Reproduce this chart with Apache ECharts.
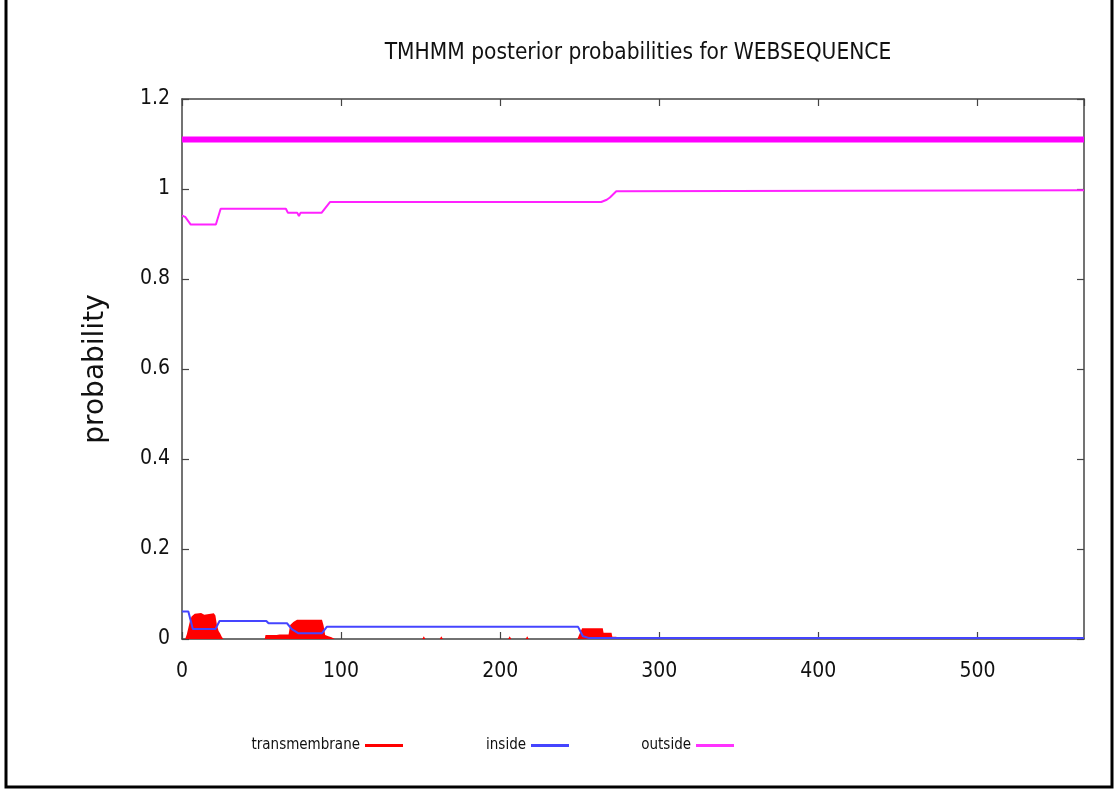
<!DOCTYPE html>
<html>
<head>
<meta charset="utf-8">
<script src="https://cdn.jsdelivr.net/npm/echarts@6/dist/echarts.min.js"></script>
<style>
  html, body { margin: 0; padding: 0; background: #fff; }
  #chart { width: 1116px; height: 791px; }
</style>
</head>
<body>
<div id="chart"></div>
<script>
  // residue position / posterior probability
  const tmPos = [2, 3, 4, 5, 6, 8, 12, 14, 15, 20, 21, 22, 23, 24, 25, 26,
    52, 52.5, 59.5, 60.5, 61.3, 67, 68, 70, 72.3, 88, 89, 90, 92, 94, 96,
    151, 152, 153, 162, 163, 164, 205, 206, 207, 216, 217, 218,
    248.5, 250, 251.5, 264.5, 265, 270, 270.5, 273, 274];
  const tmProb = [0, 0.01, 0.025, 0.04, 0.05, 0.056, 0.058, 0.054, 0.057, 0.057, 0.052, 0.03, 0.018, 0.012, 0.005, 0,
    0, 0.009, 0.009, 0.006, 0.010, 0.010, 0.031, 0.038, 0.043, 0.043, 0.03, 0.009, 0.006, 0.004, 0,
    0, 0.006, 0, 0, 0.006, 0, 0, 0.006, 0, 0, 0.006, 0,
    0, 0.012, 0.024, 0.024, 0.014, 0.014, 0.005, 0.005, 0];

  const insidePos = [0, 4, 6.8, 21, 23.6, 53, 54.4, 66, 69, 73, 88, 91, 249, 252, 256, 567];
  const insideProb = [0.061, 0.061, 0.022, 0.022, 0.040, 0.040, 0.035, 0.035, 0.022, 0.013, 0.013, 0.027, 0.027, 0.006, 0.002, 0.002];

  const outsidePos = [0, 2, 5.5, 21.3, 24.3, 65.3, 66.6, 72.5, 73.5, 74.5, 87.7, 93, 263.5, 267, 269, 273, 567];
  const outsideProb = [0.941, 0.938, 0.921, 0.921, 0.956, 0.956, 0.947, 0.947, 0.940, 0.947, 0.947, 0.971, 0.971, 0.976, 0.981, 0.995, 0.997];

  // predicted topology bar at the top
  const topoPos = [0, 567];
  const topoProb = [1.11, 1.11];

  const seqLength = 567;
  const font = '"DejaVu Sans Condensed", "Liberation Sans", sans-serif';

  function pairs(xs, ys) {
    return xs.map((x, i) => [x, ys[i]]);
  }

  const charts = echarts.init(document.getElementById("chart"));

  const axisLine = { show: true, onZero: false, lineStyle: { color: "#444", width: 1.5 } };
  const tick = { show: true, inside: true, length: 7, lineStyle: { color: "#444", width: 1.2 } };

  const legendBase = {
    top: 738,
    padding: 0,
    align: "right",
    icon: "rect",
    itemWidth: 38,
    itemHeight: 3,
    itemGap: 8,
    textStyle: { fontFamily: font, fontSize: 15, color: "#111" },
  };

  const option = {
    backgroundColor: "#fff",
    animation: false,
    title: {
      text: "TMHMM posterior probabilities for WEBSEQUENCE",
      left: 633,
      textAlign: "center",
      top: 37,
      textStyle: { fontFamily: font, fontSize: 22.5, fontWeight: "normal", color: "#111" },
    },
    grid: { left: 182, right: 32, top: 99, bottom: 152 },
    legend: [
      Object.assign({}, legendBase, { data: ["transmembrane"], right: 713 }),
      Object.assign({}, legendBase, { data: ["inside"], right: 547 }),
      Object.assign({}, legendBase, { data: ["outside"], right: 382 }),
    ],
    xAxis: [
      {
        type: "value",
        min: 0,
        max: seqLength,
        interval: 100,
        position: "bottom",
        axisLine: axisLine,
        axisTick: tick,
        splitLine: { show: false },
        axisLabel: { fontFamily: font, fontSize: 21, color: "#111", margin: 22, showMaxLabel: false },
      },
      {
        type: "value",
        min: 0,
        max: seqLength,
        interval: 100,
        position: "top",
        axisLine: axisLine,
        axisTick: tick,
        splitLine: { show: false },
        axisLabel: { show: false },
      },
    ],
    yAxis: [
      {
        type: "value",
        min: 0,
        max: 1.2,
        interval: 0.2,
        position: "left",
        name: "probability",
        nameLocation: "middle",
        nameRotate: 90,
        nameGap: 72,
        nameTextStyle: { fontFamily: "DejaVu Sans, sans-serif", fontSize: 28, color: "#111" },
        axisLine: axisLine,
        axisTick: tick,
        splitLine: { show: false },
        axisLabel: { fontFamily: font, fontSize: 21, color: "#111", margin: 12 },
      },
      {
        type: "value",
        min: 0,
        max: 1.2,
        interval: 0.2,
        position: "right",
        axisLine: axisLine,
        axisTick: tick,
        splitLine: { show: false },
        axisLabel: { show: false },
      },
    ],
    graphic: [
      {
        type: "rect",
        shape: { x: 6, y: -10, width: 1106, height: 797 },
        style: { fill: "none", stroke: "#000", lineWidth: 3 },
        silent: true,
      },
    ],
    series: [
      {
        name: "transmembrane",
        type: "line",
        data: pairs(tmPos, tmProb),
        showSymbol: false,
        symbol: "none",
        color: "#ff0000",
        lineStyle: { width: 0 },
        areaStyle: { color: "#ff0000", opacity: 1 },
        z: 2,
      },
      {
        name: "inside",
        type: "line",
        data: pairs(insidePos, insideProb),
        showSymbol: false,
        symbol: "none",
        color: "#4545ff",
        lineStyle: { width: 2, color: "#4545ff" },
        z: 3,
      },
      {
        name: "outside",
        type: "line",
        data: pairs(outsidePos, outsideProb),
        showSymbol: false,
        symbol: "none",
        color: "#ff33ff",
        lineStyle: { width: 2, color: "#ff22ff" },
        z: 4,
      },
      {
        name: "outside topology",
        type: "line",
        data: pairs(topoPos, topoProb),
        showSymbol: false,
        symbol: "none",
        color: "#ff00ff",
        lineStyle: { width: 6, color: "#ff00ff" },
        z: 4,
      },
    ],
  };

  charts.setOption(option);
</script>
</body>
</html>
